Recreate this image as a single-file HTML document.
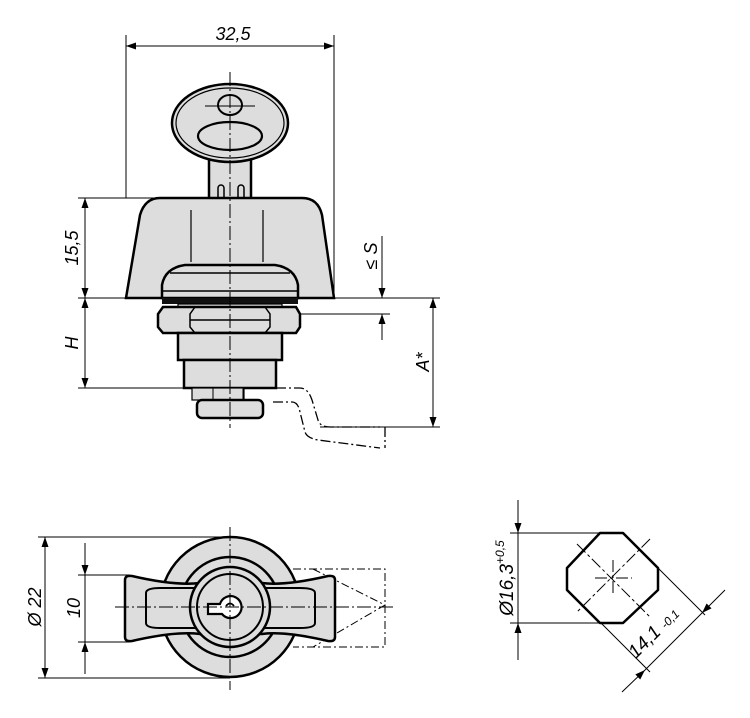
<!DOCTYPE html>
<html><head><style>
html,body{margin:0;padding:0;background:#fff;width:750px;height:718px;overflow:hidden}
text{font-family:"Liberation Sans",sans-serif;font-style:italic;fill:#000}
</style></head><body>
<svg width="750" height="718" viewBox="0 0 750 718" xmlns="http://www.w3.org/2000/svg">
<defs>
<marker id="a" viewBox="0 0 10 10" refX="10" refY="5" markerWidth="12" markerHeight="10" markerUnits="userSpaceOnUse" orient="auto-start-reverse"><path d="M0,1.5 L10,5 L0,8.5z" fill="#000"/></marker>
</defs>
<g stroke="#000" stroke-width="1" fill="none">
<line x1="126" y1="35" x2="126" y2="198"/>
<line x1="334" y1="35" x2="334" y2="298"/>
<line x1="126" y1="46" x2="334" y2="46" marker-start="url(#a)" marker-end="url(#a)"/>
<line x1="78" y1="198" x2="230" y2="198"/>
<line x1="78" y1="298" x2="440" y2="298"/>
<line x1="78" y1="388" x2="190" y2="388"/>
<line x1="85" y1="198" x2="85" y2="298" marker-start="url(#a)" marker-end="url(#a)"/>
<line x1="85" y1="298" x2="85" y2="388" marker-start="url(#a)" marker-end="url(#a)"/>
<line x1="300" y1="314" x2="390" y2="314"/>
<line x1="382" y1="236" x2="382" y2="298" marker-end="url(#a)"/>
<line x1="382" y1="340" x2="382" y2="314" marker-end="url(#a)"/>
<line x1="433" y1="298" x2="433" y2="427" marker-start="url(#a)" marker-end="url(#a)"/>
<line x1="320" y1="427" x2="440" y2="427"/>
</g>
<g stroke="#000" stroke-width="2.5" fill="#ddd">
<rect x="209" y="155" width="42" height="45"/>
<ellipse cx="230" cy="123" rx="58" ry="39"/>
</g>
<ellipse cx="230" cy="123" rx="54" ry="35" fill="none" stroke="#000" stroke-width="1.2"/>
<ellipse cx="230" cy="105" rx="12" ry="10" fill="none" stroke="#000" stroke-width="2"/>
<ellipse cx="230" cy="136" rx="32" ry="14" fill="none" stroke="#000" stroke-width="2.2"/>
<line x1="205" y1="106" x2="255" y2="106" stroke="#000"/>
<path d="M218,198 V188 a3,3 0 0 1 6,0 V198 M238,198 V188 a3,3 0 0 1 6,0 V198" fill="none" stroke="#000" stroke-width="1.5"/>
<path d="M126,298 L140,215 Q145,198 160,198 L302,198 Q318,198 322,215 L334,298 Z" fill="#ddd" stroke="#000" stroke-width="2.5"/>
<line x1="191" y1="210" x2="191" y2="262" stroke="#000" stroke-width="1.2"/>
<line x1="263" y1="210" x2="263" y2="262" stroke="#000" stroke-width="1.2"/>
<path d="M162,298 V285 Q165,268 185,265 L275,265 Q295,268 298,285 V298 Z" fill="#ddd" stroke="#000" stroke-width="2.5"/>
<line x1="170" y1="273" x2="290" y2="273" stroke="#000" stroke-width="1.5"/>
<line x1="162" y1="291" x2="298" y2="291" stroke="#000" stroke-width="1.5"/>
<rect x="162" y="298" width="136" height="6" fill="#111"/>
<rect x="178" y="304" width="104" height="4" fill="#ddd" stroke="#000" stroke-width="1.2"/>
<path d="M163,307 L296,307 L300,314 V327 L296,333 L163,333 L158,327 V314 Z" fill="#ddd" stroke="#000" stroke-width="2.5"/>
<path d="M195,307 L190,314 V327 L195,333 M265,307 L270,314 V327 L265,333 M190,320 H270" fill="none" stroke="#000" stroke-width="1.5"/>
<rect x="178" y="333" width="104" height="27" fill="#ddd" stroke="#000" stroke-width="2.5"/>
<rect x="184" y="360" width="92" height="28" fill="#ddd" stroke="#000" stroke-width="2.5"/>
<rect x="192" y="388" width="52" height="12" fill="#ddd" stroke="#000" stroke-width="1.2"/>
<line x1="213" y1="388" x2="213" y2="400" stroke="#000"/><line x1="243" y1="388" x2="243" y2="400" stroke="#000"/>
<rect x="197" y="400" width="66" height="18" rx="5" fill="#ddd" stroke="#000" stroke-width="2.5"/>
<path d="M276,388 H300 Q308,388 312,400 L318,420 Q320,427 330,427 H380 M273,402 H292 Q298,402 300,412 L305,432 Q307,438 318,440 L380,448 M385,427 V448" fill="none" stroke="#000" stroke-width="1.3" stroke-dasharray="10,3,2,3"/>
<line x1="230" y1="72" x2="230" y2="428" stroke="#000" stroke-width="1" stroke-dasharray="14,3,2,3"/>
<text x="233" y="40" font-size="18" text-anchor="middle">32,5</text>
<text transform="translate(78,248) rotate(-90)" font-size="18" text-anchor="middle">15,5</text>
<text transform="translate(78,343) rotate(-90)" font-size="18" text-anchor="middle">H</text>
<text transform="translate(377,256) rotate(-90)" font-size="18" text-anchor="middle">≤ S</text>
<text transform="translate(429,362) rotate(-90)" font-size="18" text-anchor="middle">A*</text>

<g stroke="#000" stroke-width="1" fill="none">
<line x1="38" y1="537" x2="230" y2="537"/>
<line x1="38" y1="678" x2="230" y2="678"/>
<line x1="45" y1="537" x2="45" y2="678" marker-start="url(#a)" marker-end="url(#a)"/>
<line x1="78" y1="575" x2="130" y2="575"/>
<line x1="78" y1="642" x2="130" y2="642"/>
<line x1="85" y1="543" x2="85" y2="575" marker-end="url(#a)"/>
<line x1="85" y1="674" x2="85" y2="642" marker-end="url(#a)"/>
<line x1="85" y1="575" x2="85" y2="642"/>
<path d="M293,569 H385 V647 H293 M313,569 L385,605 L313,647" stroke-dasharray="8,3,2,3"/>
</g>
<circle cx="230" cy="607" r="70" fill="#ddd" stroke="#000" stroke-width="2.5"/>
<circle cx="230" cy="607" r="50" fill="none" stroke="#000" stroke-width="2.5"/>
<path d="M125,580 Q125,575 132,576 Q175,586 200,583 L262,583 Q285,586 328,576 Q335,575 335,580 V637 Q335,642 328,641 Q285,631 262,634 L200,634 Q175,631 132,641 Q125,642 125,637 Z" fill="#ddd" stroke="#000" stroke-width="2.5"/>
<path d="M146,593 Q146,588 160,588 H300 Q315,588 315,593 V623 Q315,628 300,628 H160 Q146,628 146,623 Z" fill="#ddd" stroke="#000" stroke-width="2"/>
<circle cx="230" cy="607" r="40" fill="#ddd" stroke="#000" stroke-width="2.5"/>
<circle cx="230" cy="607" r="33" fill="none" stroke="#000" stroke-width="2"/>
<path d="M208,604 H220 A11,11 0 1 1 222,614 H208 Z" fill="#fff" stroke="#000" stroke-width="2.2"/>
<path d="M226,606 q4,-5 8,0" fill="none" stroke="#000" stroke-width="1.8"/>
<line x1="230" y1="527" x2="230" y2="690" stroke="#000" stroke-dasharray="14,3,2,3"/>
<line x1="115" y1="607" x2="393" y2="607" stroke="#000" stroke-dasharray="14,3,2,3"/>
<text transform="translate(41,607) rotate(-90)" font-size="18" text-anchor="middle">Ø 22</text>
<text transform="translate(80,608) rotate(-90)" font-size="18" text-anchor="middle">10</text>

<g stroke="#000" stroke-width="1" fill="none">
<line x1="510" y1="533" x2="600" y2="533"/>
<line x1="510" y1="623" x2="600" y2="623"/>
<line x1="518" y1="500" x2="518" y2="533" marker-end="url(#a)"/>
<line x1="518" y1="660" x2="518" y2="623" marker-end="url(#a)"/>
<line x1="518" y1="533" x2="518" y2="623"/>
<line x1="658" y1="568" x2="705" y2="615"/>
<line x1="600" y1="622" x2="650" y2="672"/>
<line x1="622" y1="692" x2="645" y2="670" marker-end="url(#a)"/>
<line x1="645" y1="670" x2="702" y2="613"/>
<line x1="725" y1="590" x2="702" y2="613" marker-end="url(#a)"/>
<path d="M577,544 L650,617 M650,539 L577,612 M595,578 H632 M613,560 V596" stroke-dasharray="12,3,3,3"/>
</g>
<path d="M600,533 H623 L658,568 V590 L623,623 H600 L567,590 V568 Z" fill="none" stroke="#000" stroke-width="2.5" stroke-linejoin="round"/>
<text transform="translate(513,578) rotate(-90)" font-size="19" text-anchor="middle">Ø16,3<tspan font-size="12" dy="-9">+0,5</tspan></text>
<text transform="translate(658,637) rotate(-45)" font-size="19" text-anchor="middle">14,1 <tspan font-size="12">-0,1</tspan></text>
</svg>
</body></html>
